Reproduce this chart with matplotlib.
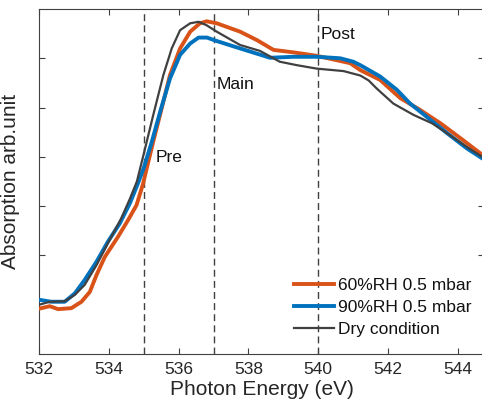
import matplotlib
matplotlib.use("Agg")
import matplotlib.pyplot as plt

plt.rcParams['font.family'] = ['Liberation Sans', 'DejaVu Sans']

x_rh60 = [532.0, 532.3, 532.54, 532.92, 533.21, 533.45, 533.64, 533.88, 534.26, 534.55, 534.79, 534.98,
          535.08, 535.27, 535.51, 535.75, 536.04, 536.33, 536.61, 536.8, 537.09, 537.76, 538.24, 538.72,
          539.29, 539.96, 540.54, 540.92, 541.21, 541.78, 542.36, 542.93, 543.51, 544.08, 544.75]
y_rh60 = [0.92, 0.97, 0.91, 0.93, 1.06, 1.26, 1.6, 1.97, 2.38, 2.72, 3.02, 3.46,
          3.76, 4.31, 4.98, 5.66, 6.2, 6.54, 6.71, 6.75, 6.71, 6.54, 6.37, 6.17,
          6.12, 6.05, 5.96, 5.9, 5.76, 5.56, 5.19, 4.95, 4.68, 4.38, 4.02]

x_rh90 = [532.0, 532.34, 532.73, 533.02, 533.3, 533.64, 533.97, 534.31, 534.6, 534.83, 534.99, 535.23,
          535.47, 535.75, 536.04, 536.33, 536.57, 536.81, 537.09, 537.76, 538.62, 539.29, 539.96, 540.63,
          541.01, 541.21, 541.78, 542.26, 542.64, 543.12, 543.7, 544.27, 544.75]
y_rh90 = [1.1, 1.06, 1.06, 1.23, 1.5, 1.87, 2.28, 2.65, 3.06, 3.46, 3.76, 4.31,
          4.92, 5.59, 6.07, 6.3, 6.42, 6.42, 6.35, 6.2, 6.01, 6.03, 6.03, 6.0,
          5.93, 5.86, 5.63, 5.36, 5.08, 4.81, 4.48, 4.17, 3.95]

x_dry = [532.0, 532.3, 532.73, 533.02, 533.3, 533.64, 533.97, 534.35, 534.6, 534.8, 534.99, 535.27,
         535.56, 535.8, 536.04, 536.33, 536.57, 536.8, 537.09, 537.76, 538.33, 538.9, 539.39, 539.96,
         540.73, 541.21, 541.45, 541.69, 542.16, 542.74, 543.27, 543.7, 544.27, 544.75]
y_dry = [1.0, 1.06, 1.07, 1.2, 1.4, 1.8, 2.25, 2.75, 3.15, 3.5, 4.04, 4.85,
         5.66, 6.2, 6.57, 6.71, 6.74, 6.67, 6.54, 6.27, 6.15, 5.93, 5.86, 5.79,
         5.74, 5.65, 5.55, 5.38, 5.08, 4.85, 4.68, 4.48, 4.2, 3.98]

vlines_x = [535, 537, 540]
annotations = [("Pre", 535.33, 3.98), ("Main", 537.08, 5.46), ("Post", 540.08, 6.49)]
labels = ["60%RH 0.5 mbar", "90%RH 0.5 mbar", "Dry condition"]
xticks = [532, 534, 536, 538, 540, 542, 544]
yticks = [2, 3, 4, 5, 6]

fig = plt.figure(figsize=(4.82, 4.12), dpi=100)
ax = fig.add_axes([0.0815, 0.1408, 0.922, 0.8374])

axc = '#404040'
for xv in vlines_x:
    ax.axvline(xv, color='#404040', linestyle=(0, (5, 3)), linewidth=1.0, zorder=1)

ax.plot(x_rh60, y_rh60, color='#D95319', linewidth=2.8, label=labels[0], zorder=3)
ax.plot(x_rh90, y_rh90, color='#0072BD', linewidth=2.8, label=labels[1], zorder=3)
ax.plot(x_dry, y_dry, color='#404040', linewidth=1.6, label=labels[2], zorder=4)

for txt, tx, ty in annotations:
    ax.text(tx, ty, txt, fontsize=12.5, color='#111111', va='center', ha='left')

ax.set_xlim(532, 544.75)
ax.set_ylim(0, 7)
ax.set_xticks(xticks)
ax.set_yticks(yticks)
ax.set_yticklabels([])
ax.tick_params(direction='in', top=True, right=True, length=4, width=0.8,
               colors=axc, labelcolor='#262626', labelsize=12.5, pad=6)
for s in ax.spines.values():
    s.set_color(axc)
    s.set_linewidth(0.8)

ax.set_xlabel("Photon Energy (eV)", fontsize=15, color='#262626', labelpad=2)
ax.set_ylabel("Absorption arb.unit", fontsize=15, color='#262626', labelpad=8)

leg = ax.legend(loc='lower right', bbox_to_anchor=(0.995, 0.02), frameon=False, fontsize=12.5,
                handlelength=2.3, handletextpad=0.2, labelspacing=0.38, borderaxespad=0.2)
for t in leg.get_texts():
    t.set_color('#111111')

fig.savefig("out.png", dpi=100)
